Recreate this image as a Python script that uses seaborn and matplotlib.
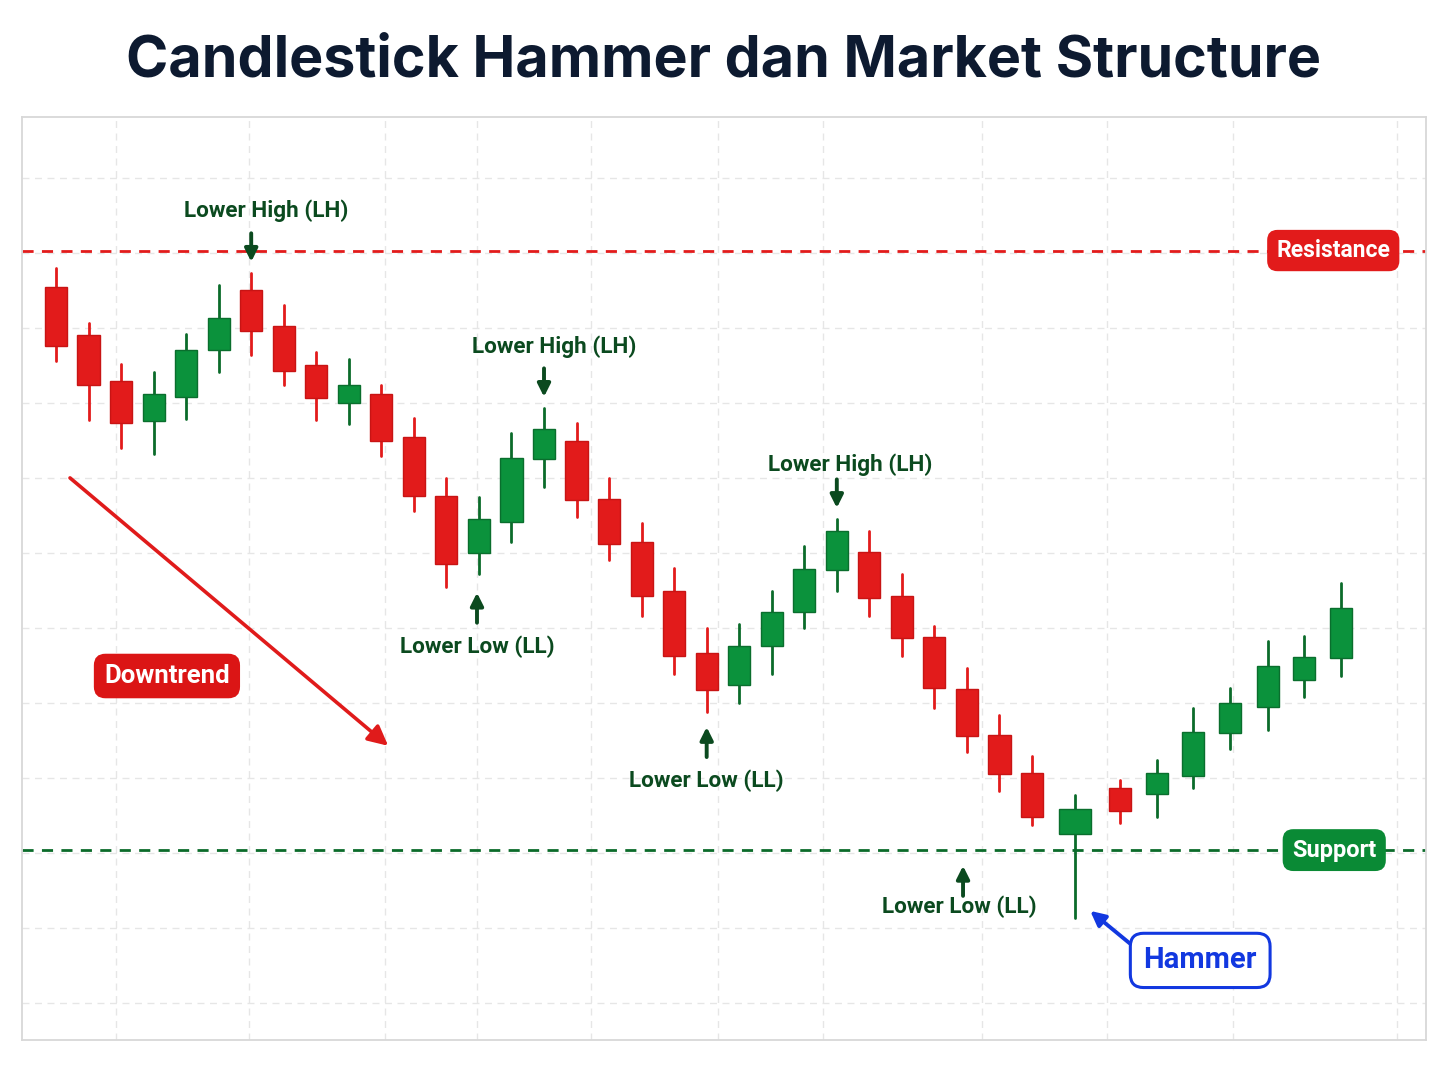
import numpy as np
import pandas as pd
import matplotlib
matplotlib.use("Agg")
import matplotlib.pyplot as plt
import seaborn as sns

# ---------------- data ----------------
t = [0, 1, 2, 3, 4, 5, 6, 7, 8, 9, 10, 11, 12, 13, 14, 15, 16, 17, 18, 19,
     20, 21, 22, 23, 24, 25, 26, 27, 28, 29, 30,
     31.33, 32.71, 33.85, 34.95, 36.09, 37.26, 38.36, 39.5]
open_ = [195.5, 189.1, 182.9, 177.6, 180.8, 187.1, 195.1, 190.3, 185.1, 180.0,
         181.2, 175.5, 167.6, 160.0, 164.1, 172.5, 174.9, 167.2, 161.5, 154.9,
         146.7, 142.4, 147.6, 152.1, 157.7, 160.1, 154.3, 148.8, 141.9, 135.7,
         130.7, 122.5, 128.7, 127.9, 130.3, 136.0, 139.5, 143.1, 146.0]
high = [198.0, 190.7, 185.2, 184.1, 189.2, 195.7, 197.3, 193.1, 186.8, 185.9,
        182.4, 178.0, 170.0, 167.5, 176.0, 179.3, 177.3, 170.0, 164.0, 158.0,
        150.0, 150.5, 154.9, 160.9, 164.5, 162.9, 157.2, 150.3, 144.7, 138.4,
        132.9, 127.7, 129.7, 132.4, 139.3, 142.0, 148.3, 148.9, 156.0]
low = [185.6, 177.7, 174.0, 173.2, 177.9, 184.1, 186.4, 182.4, 177.7, 177.2,
       172.9, 165.6, 155.5, 157.2, 161.5, 168.8, 164.8, 159.1, 151.6, 143.9,
       138.8, 140.0, 143.9, 150.0, 154.9, 151.6, 146.3, 139.3, 133.5, 128.3,
       123.7, 111.3, 124.0, 124.8, 128.7, 133.9, 136.4, 140.8, 143.6]
close = [187.6, 182.4, 177.3, 181.2, 187.1, 191.3, 189.6, 184.3, 180.7, 182.4,
         174.9, 167.6, 158.5, 164.5, 172.7, 176.5, 167.1, 161.2, 154.3, 146.3,
         141.7, 147.6, 152.1, 157.9, 162.9, 154.0, 148.7, 142.0, 135.6, 130.5,
         124.8, 125.9, 125.6, 130.7, 136.1, 140.0, 144.9, 146.1, 152.7]
resistance_level = 200.3
support_level = 120.4
hammer_idx = 31
lh_idx = [6, 15, 24]
ll_labels = ["Lower Low (LL)", "Lower Low (LL)", "Lower Low (LL)"]
title = "Candlestick Hammer dan Market Structure"

# ---------------- style ----------------
RED = "#e21b1b"
RED_EDGE = "#c81414"
GREEN = "#0b923c"
GREEN_EDGE = "#0a6e2d"
GREEN_WICK = "#0b6b2a"
LABEL_GREEN = "#0b4a1f"
BLUE = "#1238e0"
NAVY = "#0d1a30"

sns.set_theme(style="white")
LABEL_FONT = ["Roboto", "DejaVu Sans"]
plt.rcParams["font.family"] = ["Roboto", "DejaVu Sans"]

fig = plt.figure(figsize=(14.48, 10.86), dpi=100)
fig.patch.set_facecolor("white")
ax = fig.add_axes([0.0152, 0.0424, 0.9696, 0.8499])

df = pd.DataFrame({"t": t, "open": open_, "high": high, "low": low, "close": close})
df["dir"] = np.where(df["close"] >= df["open"], "up", "down")
df["id"] = np.arange(len(df))

# wicks via seaborn
wick = pd.concat([
    df[["id", "t", "dir"]].assign(price=df["low"]),
    df[["id", "t", "dir"]].assign(price=df["high"]),
]).sort_values(["id", "price"])
sns.lineplot(data=wick, x="t", y="price", units="id", estimator=None,
             hue="dir", palette={"up": GREEN_WICK, "down": RED},
             sort=False, legend=False, linewidth=2.0, ax=ax, zorder=3)

# bodies
widths = np.where(df["id"] == hammer_idx, 0.98, 0.68)
body_bottom = np.minimum(df["open"], df["close"])
body_h = np.abs(df["close"] - df["open"])
ax.bar(df["t"], body_h, bottom=body_bottom, width=widths,
       color=np.where(df["dir"] == "up", GREEN, RED),
       edgecolor=np.where(df["dir"] == "up", GREEN_EDGE, RED_EDGE),
       linewidth=1.0, zorder=4)

# axes
ax.set_xlim(-1.045, 42.11)
ax.set_ylim(95.1, 218.1)
ax.set_xticks([1.84, 5.93, 10.11, 12.94, 16.45, 20.35, 23.58, 28.47, 32.31, 36.18, 41.22])
ax.set_yticks(np.arange(100, 220, 10))
ax.grid(True, color="#e6e6e6", linestyle=(0, (5, 4)), linewidth=1.0)
ax.set_axisbelow(True)
ax.tick_params(length=0, labelbottom=False, labelleft=False)
ax.set_xlabel("")
ax.set_ylabel("")
for s in ax.spines.values():
    s.set_color("#d8d8d8")
    s.set_linewidth(1.3)

# support / resistance
ax.axhline(resistance_level, color=RED, linestyle=(0, (4, 3)), linewidth=2.0, zorder=2)
ax.axhline(support_level, color="#0b6b2a", linestyle=(0, (4, 3)), linewidth=2.0, zorder=2)

def tag(x, y, s, fc, tc="white", ec=None, size=17, pad=0.4, lw=0):
    ax.text(x, y, s, ha="center", va="center", color=tc, fontsize=size,
            fontweight="bold", family=LABEL_FONT, zorder=6,
            bbox=dict(boxstyle=f"round,pad={pad},rounding_size=0.45",
                      fc=fc, ec=ec if ec else fc, lw=lw))

tag(39.26, resistance_level, "Resistance", RED, size=16.5)
tag(39.29, support_level, "Support", "#0a8a35", size=17)
tag(3.41, 143.6, "Downtrend", "#db1515", size=18.5)
tag(35.17, 105.7, "Hammer", "white", tc=BLUE, ec=BLUE, size=21, pad=0.45, lw=2.2)

# Lower High labels
lh_text_pos = [(6.46, 205.6), (15.31, 187.5), (24.41, 171.7)]
for i, (tx, ty) in zip(lh_idx, lh_text_pos):
    ax.text(tx, ty, "Lower High (LH)", ha="center", va="center", fontsize=16.2,
            fontweight="bold", family=LABEL_FONT, color=LABEL_GREEN, zorder=6)
    hx = t[i]
    ax.annotate("", xy=(hx, high[i] + 1.5), xytext=(hx, high[i] + 5.3),
                arrowprops=dict(arrowstyle="-|>", color=LABEL_GREEN, lw=2.8,
                                mutation_scale=19, shrinkA=0, shrinkB=0), zorder=6)

# Lower Low labels
ll_text_pos = [(12.94, 147.5), (19.98, 129.7), (27.76, 112.8)]
ll_arrow_x = [12.94, 20.0, 27.88]
ll_arrow_tip = [154.7, 136.8, 118.3]
for s, (tx, ty), axx, tip in zip(ll_labels, ll_text_pos, ll_arrow_x, ll_arrow_tip):
    ax.text(tx, ty, s, ha="center", va="center", fontsize=16.2,
            fontweight="bold", family=LABEL_FONT, color=LABEL_GREEN, zorder=6)
    ax.annotate("", xy=(axx, tip), xytext=(axx, tip - 4.0),
                arrowprops=dict(arrowstyle="-|>", color=LABEL_GREEN, lw=2.8,
                                mutation_scale=19, shrinkA=0, shrinkB=0), zorder=6)

# Downtrend arrow
ax.annotate("", xy=(10.21, 134.3), xytext=(0.43, 170.0),
            arrowprops=dict(arrowstyle="-|>", color="#e01b1b", lw=2.6,
                            mutation_scale=30, shrinkA=0, shrinkB=0), zorder=5)
# Hammer arrow
ax.annotate("", xy=(31.79, 112.3), xytext=(33.08, 107.7),
            arrowprops=dict(arrowstyle="-|>", color=BLUE, lw=2.8,
                            mutation_scale=22, shrinkA=0, shrinkB=0), zorder=5)

fig.text(0.5, 0.9435, title, ha="center", va="center", fontsize=41.3,
         fontweight="bold", color=NAVY, family=["Inter", "Roboto", "DejaVu Sans"])

fig.savefig("out.png", dpi=100, facecolor="white")
